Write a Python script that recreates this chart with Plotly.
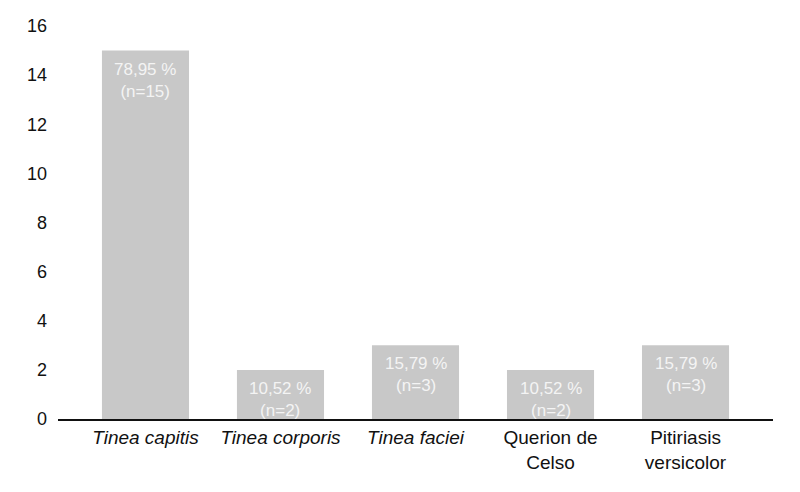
import plotly.graph_objects as go

# Diagnósticos clínicos
categories = ["<i>Tinea capitis</i>", "<i>Tinea corporis</i>", "<i>Tinea faciei</i>",
              "Querion de<br>Celso", "Pitiriasis<br>versicolor"]
counts = [15, 2, 3, 2, 3]
percents = ["78,95 %", "10,52 %", "15,79 %", "10,52 %", "15,79 %"]
y_ticks = [0, 2, 4, 6, 8, 10, 12, 14, 16]

font_family = "Liberation Sans, Arial, sans-serif"

fig = go.Figure()
fig.add_trace(go.Bar(x=categories, y=counts, width=0.645,
                     marker=dict(color="#c8c8c8", line=dict(width=0)),
                     hoverinfo="skip"))

# labels inside the top of each bar
for cat, n, pct in zip(categories, counts, percents):
    fig.add_annotation(x=cat, y=n, yanchor="top", yshift=-7, showarrow=False,
                       text=f"{pct}<br>(n={n})",
                       font=dict(family=font_family, size=17, color="#f4f4f4"))

# page body adds 8px offset, so margins compensate
fig.update_layout(
    width=800, height=492,
    margin=dict(l=50, r=35, t=18, b=81),
    paper_bgcolor="white", plot_bgcolor="white",
    showlegend=False,
    font=dict(family=font_family, size=17, color="#111111"),
    xaxis=dict(range=[-0.648, 4.648], showline=True, linecolor="#111111", linewidth=2,
               ticks="", showgrid=False, tickfont=dict(size=19), automargin=False),
    yaxis=dict(range=[0, 16], tickvals=y_ticks, showline=False, showgrid=False,
               zeroline=False, ticks="", ticklabelstandoff=10, tickfont=dict(size=18),
               automargin=False),
)

fig.write_html("out.html")
